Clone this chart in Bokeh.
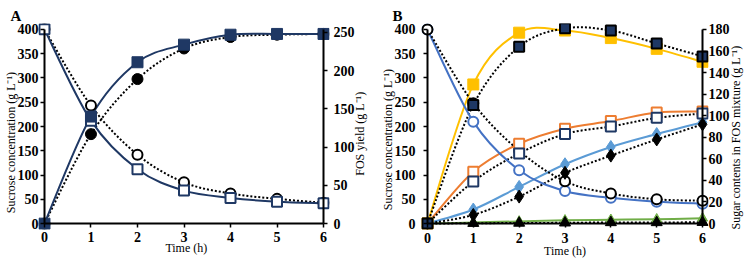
import math
from bokeh.plotting import figure
from bokeh.models import (Range1d, LinearAxis, SingleIntervalTicker,
                          CustomJSTickFormatter, Label)
from bokeh.layouts import row
from bokeh.embed import file_html
from bokeh.resources import INLINE

hours = [0, 1, 2, 3, 4, 5, 6]

# ---- Panel A ----
# sucrose concentration (left axis, g/L)
a_sucrose_sq = [400, 212, 112, 68, 53, 45, 42]
a_sucrose_ci = [400, 243, 142, 85, 62, 51, 43]
# FOS yield (right axis, g/L)
a_fos_sq = [0, 140, 211, 234, 247, 248, 248]
a_fos_ci = [0, 117, 189, 229, 244, 247, 248]

# ---- Panel B ----
# sucrose concentration (left axis, g/L)
b_sucrose_blue = [400, 210, 110, 67, 53, 45, 41]
b_sucrose_black = [400, 248, 150, 87, 62, 50, 47]
# sugar contents in FOS mixture (right axis, g/L)
b_total_yellow = [0, 129, 177, 179, 172, 162, 150]
b_total_navy = [0, 110, 164, 181, 179, 167, 155]
b_gf2_orange = [0, 48, 74, 88, 95, 103, 104]
b_gf2_navy = [0, 39, 65, 83, 90, 98, 102]
b_gf3_lblue = [0, 13, 34, 55, 71, 83, 94]
b_gf3_black = [0, 8, 25, 47, 63, 78, 92]
b_gf4_green = [0, 1, 2, 3, 3.5, 4, 5]
b_gf4_black = [0, 0.3, 0.5, 0.7, 1, 1, 1.2]

left_max = 400
a_right_max = 254
b_right_max = 180

LEFT_LABEL = "Sucrose concentration (g L\u207b\u00b9)"
A_RIGHT_LABEL = "FOS yield (g L\u207b\u00b9)"
B_RIGHT_LABEL = "Sugar contents in FOS mixture (g L\u207b\u00b9)"
X_LABEL = "Time (h)"

NAVY = "#1F3864"
YELLOW = "#FFC000"
ORANGE = "#ED7D31"
BLUE = "#4472C4"
LBLUE = "#5B9BD5"
GREEN = "#70AD47"
FONT = "Liberation Serif"
DOT = "2 2"


def bezier_cols(xs, ys):
    n = len(xs)
    cols = {k: [] for k in ("x0", "y0", "x1", "y1", "cx0", "cy0", "cx1", "cy1")}
    for i in range(n - 1):
        a = i - 1 if i > 0 else i
        d = i + 2 if i + 2 < n else i + 1
        cols["x0"].append(xs[i]); cols["y0"].append(ys[i])
        cols["x1"].append(xs[i + 1]); cols["y1"].append(ys[i + 1])
        cols["cx0"].append(xs[i] + (xs[i + 1] - xs[a]) / 6.0)
        cols["cy0"].append(ys[i] + (ys[i + 1] - ys[a]) / 6.0)
        cols["cx1"].append(xs[i + 1] - (xs[d] - xs[i]) / 6.0)
        cols["cy1"].append(ys[i + 1] - (ys[d] - ys[i]) / 6.0)
    return cols


def curve(p, xs, ys, color, dash="solid", width=2, rng="default"):
    c = bezier_cols(xs, ys)
    p.bezier(x0=c["x0"], y0=c["y0"], x1=c["x1"], y1=c["y1"],
             cx0=c["cx0"], cy0=c["cy0"], cx1=c["cx1"], cy1=c["cy1"],
             line_color=color, line_width=width, line_dash=dash,
             y_range_name=rng)


def label_axis(interval, standoff, rng=None):
    kw = dict(ticker=SingleIntervalTicker(interval=interval),
              axis_line_color=None,
              major_tick_in=0, major_tick_out=0, minor_tick_in=0, minor_tick_out=0,
              major_label_standoff=standoff,
              major_label_text_font=FONT, major_label_text_font_style="bold",
              major_label_text_font_size="14px", major_label_text_color="black")
    if rng:
        kw["y_range_name"] = rng
    return LinearAxis(**kw)


def line_axis(interval, loc, bounds, rng=None):
    kw = dict(ticker=SingleIntervalTicker(interval=interval),
              fixed_location=loc, bounds=bounds,
              formatter=CustomJSTickFormatter(code="return ''"),
              axis_line_color="black", axis_line_width=2,
              major_tick_line_color="black", major_tick_line_width=1.5,
              major_tick_in=0, major_tick_out=4, minor_tick_in=0, minor_tick_out=0)
    if rng:
        kw["y_range_name"] = rng
    return LinearAxis(**kw)


def title_text(p, side, x, y, text, vertical):
    p.add_layout(Label(x=x, y=y, text=text,
                       angle=(math.pi / 2 if vertical else 0.0),
                       text_align="center", text_baseline="middle",
                       text_font=FONT, text_font_size="12px",
                       text_font_style="normal", text_color="black"), side)


def panel(letter, letter_offset, xpad, ypad, right_max, right_tick,
          borders, standoffs):
    l, r, t, b = borders
    sl, sr, sb = standoffs
    p = figure(width=373, height=259, output_backend="svg", toolbar_location=None,
               x_range=Range1d(-xpad, 6 + xpad),
               y_range=Range1d(-ypad, left_max + ypad),
               x_axis_location=None, y_axis_location=None,
               min_border_left=l, min_border_right=r,
               min_border_top=t, min_border_bottom=b)
    k = right_max / left_max
    p.extra_y_ranges = {"right": Range1d(-ypad * k, (left_max + ypad) * k)}
    p.xgrid.visible = False
    p.ygrid.visible = False
    p.outline_line_color = None

    # tick labels, in the side panels
    p.add_layout(label_axis(1, sb), "below")
    p.add_layout(label_axis(50, sl), "left")
    p.add_layout(label_axis(right_tick, sr, "right"), "right")
    # axis lines and tick marks through the origin / t = 6
    p.add_layout(line_axis(1, 0, (0, 6)), "below")
    p.add_layout(line_axis(50, 0, (0, left_max)), "left")
    p.add_layout(line_axis(right_tick, 6, (0, right_max), "right"), "right")

    p.title.text = letter
    p.title.align = "left"
    p.title.offset = letter_offset
    p.title.standoff = 0
    p.title.text_font = FONT
    p.title.text_font_style = "bold"
    p.title.text_font_size = "15px"
    p.title.text_color = "black"
    return p


# ---------------- Panel A ----------------
pA = panel("A", -28, 6 / 46.83, 6 / 0.4975, a_right_max, 50,
           (36, 44, 18, 30), (0, 4, 2))

curve(pA, hours, a_sucrose_ci, "black", DOT)
curve(pA, hours, a_fos_ci, "black", DOT, rng="right")
curve(pA, hours, a_sucrose_sq, NAVY)
curve(pA, hours, a_fos_sq, NAVY, rng="right")

pA.scatter(hours, a_sucrose_ci, marker="circle", size=10, line_color="black",
           line_width=2, fill_color="white")
pA.scatter(hours, a_fos_ci, marker="circle", size=11, line_color="black",
           fill_color="black", y_range_name="right")
pA.scatter(hours, a_sucrose_sq, marker="square", size=10, line_color=NAVY,
           line_width=2, fill_color="white")
pA.scatter(hours, a_fos_sq, marker="square", size=11, line_color=NAVY,
           fill_color=NAVY, y_range_name="right")

title_text(pA, "left", -0.726, 167, LEFT_LABEL, True)
title_text(pA, "right", 6.79, 185, A_RIGHT_LABEL, True)
title_text(pA, "below", 3.05, -50, X_LABEL, False)

# ---------------- Panel B ----------------
pB = panel("B", -29, 6 / 46.33, 6 / 0.49, b_right_max, 20,
           (48, 35, 23, 28), (6, 0, 3))

curve(pB, hours, b_gf4_green, GREEN, rng="right")
curve(pB, hours, b_gf4_black, "black", DOT, rng="right")
curve(pB, hours, b_gf3_lblue, LBLUE, rng="right")
curve(pB, hours, b_gf3_black, "black", DOT, rng="right")
curve(pB, hours, b_gf2_orange, ORANGE, rng="right")
curve(pB, hours, b_gf2_navy, "black", DOT, rng="right")
curve(pB, hours, b_total_yellow, YELLOW, rng="right")
curve(pB, hours, b_total_navy, "black", DOT, rng="right")
curve(pB, hours, b_sucrose_blue, BLUE)
curve(pB, hours, b_sucrose_black, "black", DOT)

pB.scatter(hours, b_sucrose_blue, marker="circle", size=10, line_color=BLUE,
           line_width=2, fill_color="white")
pB.scatter(hours, b_sucrose_black, marker="circle", size=10, line_color="black",
           line_width=2, fill_color="white")
pB.scatter(hours, b_gf4_green, marker="triangle", size=10, line_color=GREEN,
           fill_color=GREEN, y_range_name="right")
pB.scatter(hours, b_gf4_black, marker="triangle", size=11, line_color="black",
           fill_color="black", y_range_name="right")
pB.scatter(hours, b_gf3_lblue, marker="diamond", size=13, line_color=LBLUE,
           fill_color=LBLUE, y_range_name="right")
pB.scatter(hours, b_gf3_black, marker="diamond", size=13, line_color="black",
           fill_color="black", y_range_name="right")
pB.scatter(hours, b_gf2_orange, marker="square", size=10, line_color=ORANGE,
           line_width=2, fill_color="white", y_range_name="right")
pB.scatter(hours, b_gf2_navy, marker="square", size=10, line_color=NAVY,
           line_width=2, fill_color="white", y_range_name="right")
pB.scatter(hours, b_total_yellow, marker="square", size=11, line_color=YELLOW,
           fill_color=YELLOW, y_range_name="right")
pB.scatter(hours, b_total_navy, marker="square", size=10, line_color="black",
           line_width=2, fill_color=NAVY, y_range_name="right")

title_text(pB, "left", -0.86, 173, LEFT_LABEL, True)
title_text(pB, "right", 6.734, 177, B_RIGHT_LABEL, True)
title_text(pB, "below", 3.0, -57, X_LABEL, False)

layout = row(pA, pB)
open("out.html", "w").write(file_html(layout, INLINE))
